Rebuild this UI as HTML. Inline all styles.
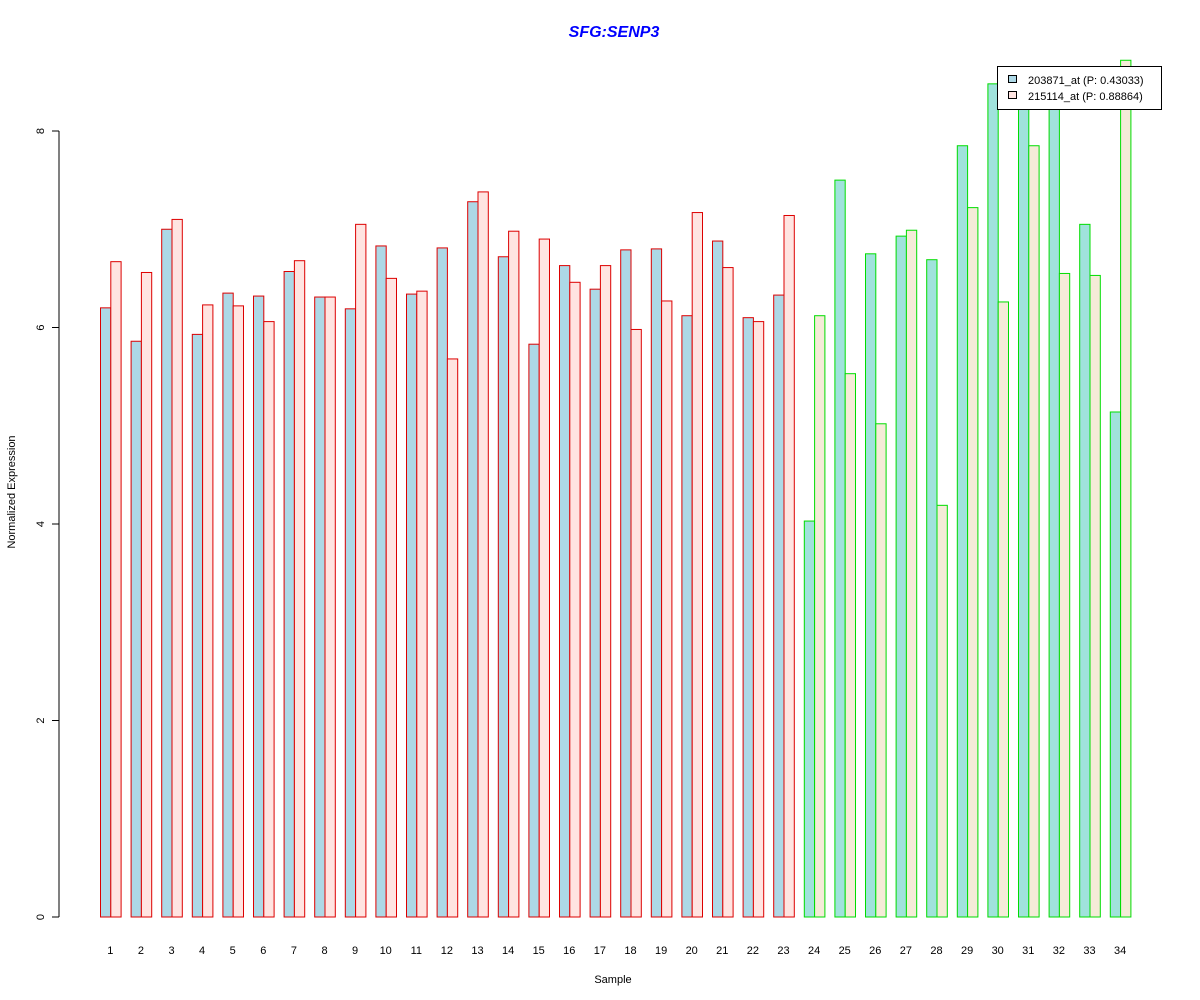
<!DOCTYPE html>
<html><head><meta charset="utf-8"><style>
html,body{margin:0;padding:0;background:#fff;}
svg{display:block;font-family:"Liberation Sans",Arial,sans-serif;}
</style></head><body>
<svg width="1200" height="1000" viewBox="0 0 1200 1000" xmlns="http://www.w3.org/2000/svg">
<rect width="1200" height="1000" fill="#fff"/>
<text x="614" y="37" text-anchor="middle" font-size="16" font-weight="bold" font-style="italic" fill="#0000ff">SFG:SENP3</text>
<g stroke="#dd0000" fill="#ADD8E6">
<rect x="100.5" y="307.85" width="10.3" height="609.15"/>
<rect x="131.1" y="341.25" width="10.3" height="575.75"/>
<rect x="161.7" y="229.25" width="10.3" height="687.75"/>
<rect x="192.3" y="334.38" width="10.3" height="582.62"/>
<rect x="222.9" y="293.11" width="10.3" height="623.89"/>
<rect x="253.5" y="296.06" width="10.3" height="620.94"/>
<rect x="284.1" y="271.5" width="10.3" height="645.5"/>
<rect x="314.7" y="297.04" width="10.3" height="619.96"/>
<rect x="345.3" y="308.83" width="10.3" height="608.17"/>
<rect x="375.9" y="245.95" width="10.3" height="671.05"/>
<rect x="406.5" y="294.09" width="10.3" height="622.91"/>
<rect x="437.1" y="247.92" width="10.3" height="669.08"/>
<rect x="467.7" y="201.74" width="10.3" height="715.26"/>
<rect x="498.3" y="256.76" width="10.3" height="660.24"/>
<rect x="528.9" y="344.2" width="10.3" height="572.8"/>
<rect x="559.5" y="265.6" width="10.3" height="651.4"/>
<rect x="590.1" y="289.18" width="10.3" height="627.82"/>
<rect x="620.7" y="249.88" width="10.3" height="667.12"/>
<rect x="651.3" y="248.9" width="10.3" height="668.1"/>
<rect x="681.9" y="315.71" width="10.3" height="601.29"/>
<rect x="712.5" y="241.04" width="10.3" height="675.96"/>
<rect x="743.1" y="317.67" width="10.3" height="599.33"/>
<rect x="773.7" y="295.08" width="10.3" height="621.92"/>
</g>
<g stroke="#dd0000" fill="#FFE4E1">
<rect x="110.8" y="261.67" width="10.3" height="655.33"/>
<rect x="141.4" y="272.48" width="10.3" height="644.52"/>
<rect x="172" y="219.42" width="10.3" height="697.58"/>
<rect x="202.6" y="304.9" width="10.3" height="612.1"/>
<rect x="233.2" y="305.88" width="10.3" height="611.12"/>
<rect x="263.8" y="321.6" width="10.3" height="595.4"/>
<rect x="294.4" y="260.69" width="10.3" height="656.31"/>
<rect x="325" y="297.04" width="10.3" height="619.96"/>
<rect x="355.6" y="224.34" width="10.3" height="692.66"/>
<rect x="386.2" y="278.37" width="10.3" height="638.63"/>
<rect x="416.8" y="291.15" width="10.3" height="625.85"/>
<rect x="447.4" y="358.94" width="10.3" height="558.06"/>
<rect x="478" y="191.91" width="10.3" height="725.09"/>
<rect x="508.6" y="231.21" width="10.3" height="685.79"/>
<rect x="539.2" y="239.07" width="10.3" height="677.93"/>
<rect x="569.8" y="282.3" width="10.3" height="634.7"/>
<rect x="600.4" y="265.6" width="10.3" height="651.4"/>
<rect x="631" y="329.46" width="10.3" height="587.54"/>
<rect x="661.6" y="300.97" width="10.3" height="616.03"/>
<rect x="692.2" y="212.55" width="10.3" height="704.45"/>
<rect x="722.8" y="267.57" width="10.3" height="649.43"/>
<rect x="753.4" y="321.6" width="10.3" height="595.4"/>
<rect x="784" y="215.49" width="10.3" height="701.51"/>
</g>
<g stroke="#00dd00" fill="#A0E2DC">
<rect x="804.3" y="521.05" width="10.3" height="395.95"/>
<rect x="834.9" y="180.12" width="10.3" height="736.88"/>
<rect x="865.5" y="253.81" width="10.3" height="663.19"/>
<rect x="896.1" y="236.13" width="10.3" height="680.87"/>
<rect x="926.7" y="259.71" width="10.3" height="657.29"/>
<rect x="957.3" y="145.74" width="10.3" height="771.26"/>
<rect x="987.9" y="83.84" width="10.3" height="833.16"/>
<rect x="1018.5" y="72.05" width="10.3" height="844.95"/>
<rect x="1049.1" y="72.05" width="10.3" height="844.95"/>
<rect x="1079.7" y="224.34" width="10.3" height="692.66"/>
<rect x="1110.3" y="411.99" width="10.3" height="505.01"/>
</g>
<g stroke="#00dd00" fill="#F5EBD8">
<rect x="814.6" y="315.71" width="10.3" height="601.29"/>
<rect x="845.2" y="373.68" width="10.3" height="543.32"/>
<rect x="875.8" y="423.78" width="10.3" height="493.22"/>
<rect x="906.4" y="230.23" width="10.3" height="686.77"/>
<rect x="937" y="505.33" width="10.3" height="411.67"/>
<rect x="967.6" y="207.63" width="10.3" height="709.37"/>
<rect x="998.2" y="301.95" width="10.3" height="615.05"/>
<rect x="1028.8" y="145.74" width="10.3" height="771.26"/>
<rect x="1059.4" y="273.46" width="10.3" height="643.54"/>
<rect x="1090" y="275.43" width="10.3" height="641.57"/>
<rect x="1120.6" y="60.26" width="10.3" height="856.74"/>
</g>
<line x1="59" y1="131" x2="59" y2="917" stroke="#000"/>
<g stroke="#000">
<line x1="52" y1="917" x2="59" y2="917"/><line x1="52" y1="720.5" x2="59" y2="720.5"/>
<line x1="52" y1="524" x2="59" y2="524"/><line x1="52" y1="327.5" x2="59" y2="327.5"/>
<line x1="52" y1="131" x2="59" y2="131"/></g>
<g font-size="11" text-anchor="middle" fill="#000">
<text transform="translate(44,917) rotate(-90)">0</text>
<text transform="translate(44,720.5) rotate(-90)">2</text>
<text transform="translate(44,524) rotate(-90)">4</text>
<text transform="translate(44,327.5) rotate(-90)">6</text>
<text transform="translate(44,131) rotate(-90)">8</text>
<text transform="translate(15,492) rotate(-90)">Normalized Expression</text>
<text x="613" y="983">Sample</text>
</g>
<g font-size="11" text-anchor="middle" fill="#000">
<text x="110.3" y="954">1</text><text x="140.9" y="954">2</text><text x="171.5" y="954">3</text><text x="202.1" y="954">4</text><text x="232.7" y="954">5</text><text x="263.3" y="954">6</text><text x="293.9" y="954">7</text><text x="324.5" y="954">8</text><text x="355.1" y="954">9</text><text x="385.7" y="954">10</text><text x="416.3" y="954">11</text><text x="446.9" y="954">12</text><text x="477.5" y="954">13</text><text x="508.1" y="954">14</text><text x="538.7" y="954">15</text><text x="569.3" y="954">16</text><text x="599.9" y="954">17</text><text x="630.5" y="954">18</text><text x="661.1" y="954">19</text><text x="691.7" y="954">20</text><text x="722.3" y="954">21</text><text x="752.9" y="954">22</text><text x="783.5" y="954">23</text><text x="814.1" y="954">24</text><text x="844.7" y="954">25</text><text x="875.3" y="954">26</text><text x="905.9" y="954">27</text><text x="936.5" y="954">28</text><text x="967.1" y="954">29</text><text x="997.7" y="954">30</text><text x="1028.3" y="954">31</text><text x="1058.9" y="954">32</text><text x="1089.5" y="954">33</text><text x="1120.1" y="954">34</text>
</g>
<rect x="997.5" y="66.5" width="164" height="43" fill="#fff" stroke="#000"/>
<rect x="1008.5" y="75.5" width="8" height="7" fill="#ADD8E6" stroke="#000"/>
<rect x="1008.5" y="91.5" width="8" height="7" fill="#FFE4E1" stroke="#000"/>
<text x="1028" y="84" font-size="11">203871_at (P: 0.43033)</text>
<text x="1028" y="100" font-size="11">215114_at (P: 0.88864)</text>
</svg>
</body></html>
